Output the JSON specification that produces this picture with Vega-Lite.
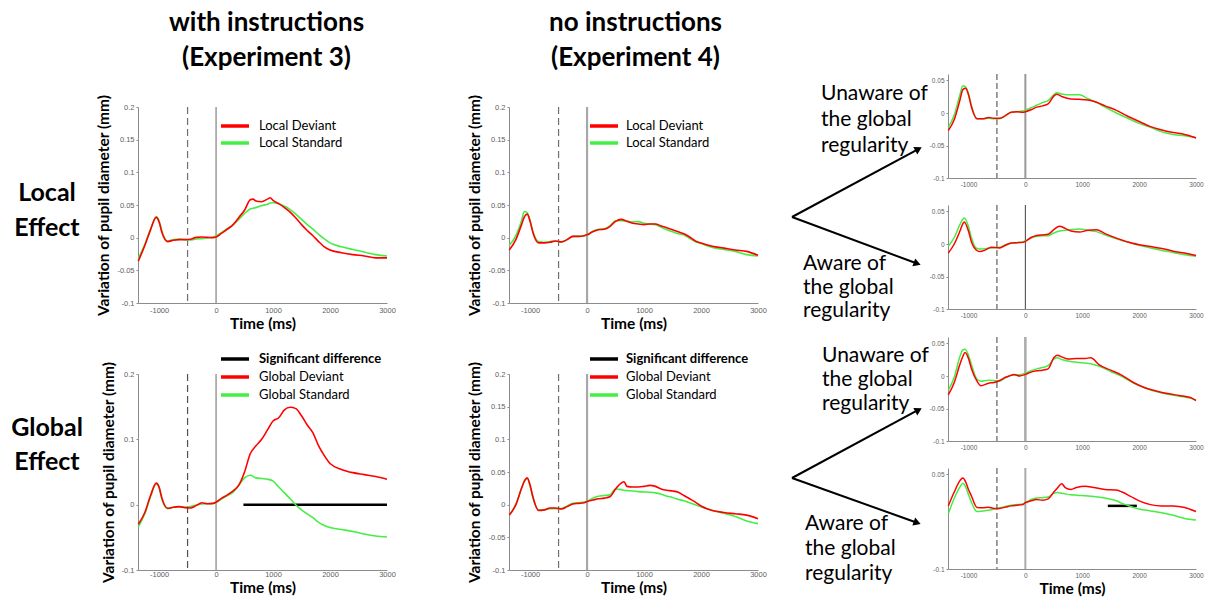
{
  "$schema": "https://vega.github.io/schema/vega-lite/v6.json",
  "background": "white",
  "padding": {"left": 0, "top": 10, "right": 0, "bottom": 0},
  "spacing": 0,
  "resolve": {"scale": {"x": "independent", "y": "independent", "color": "independent"}, "legend": {"color": "independent"}, "axis": {"x": "independent", "y": "independent"}},
  "config": {
    "view": {"stroke": null},
    "font": "Lato",
    "axis": {"grid": false, "domainColor": "#8c8c8c", "tickColor": "#8c8c8c", "tickSize": 2, "labelFont": "Liberation Sans", "labelFontSize": 7.5, "labelColor": "#606060", "labelPadding": 2, "labelFlush": false, "labelOverlap": false, "titleFont": "Lato", "titleFontSize": 15.5, "titleFontWeight": "bold", "titleColor": "black"},
    "axisX": {"titlePadding": 3, "tickSize": 0, "labelPadding": 3},
    "axisY": {"titlePadding": 5}
  },
  "datasets": {
    "p1": [
      {"t": -1365, "d": -0.036, "s": -0.032}, {"t": -1250, "d": -0.012, "s": -0.010}, {"t": -1150, "d": 0.012, "s": 0.013}, {"t": -1050, "d": 0.031, "s": 0.032}, {"t": -1000, "d": 0.024, "s": 0.026}, {"t": -950, "d": 0.008, "s": 0.010}, {"t": -850, "d": -0.006, "s": -0.005}, {"t": -750, "d": -0.004, "s": -0.003}, {"t": -650, "d": -0.003, "s": -0.002}, {"t": -550, "d": -0.003, "s": -0.003}, {"t": -450, "d": -0.0025, "s": -0.0035}, {"t": -350, "d": 0.0005, "s": -0.002}, {"t": -250, "d": 0.001, "s": -0.0015}, {"t": -150, "d": 0.0005, "s": -0.0005}, {"t": -50, "d": 0.0, "s": 0.001}, {"t": 0, "d": 0.001, "s": 0.0025}, {"t": 100, "d": 0.007, "s": 0.008}, {"t": 200, "d": 0.013, "s": 0.014}, {"t": 300, "d": 0.020, "s": 0.020}, {"t": 400, "d": 0.031, "s": 0.028}, {"t": 500, "d": 0.042, "s": 0.037}, {"t": 600, "d": 0.058, "s": 0.044}, {"t": 650, "d": 0.059, "s": 0.045}, {"t": 700, "d": 0.056, "s": 0.046}, {"t": 800, "d": 0.055, "s": 0.049}, {"t": 900, "d": 0.059, "s": 0.051}, {"t": 950, "d": 0.061, "s": 0.053}, {"t": 1000, "d": 0.057, "s": 0.0535}, {"t": 1100, "d": 0.052, "s": 0.052}, {"t": 1200, "d": 0.046, "s": 0.048}, {"t": 1300, "d": 0.039, "s": 0.043}, {"t": 1400, "d": 0.030, "s": 0.036}, {"t": 1500, "d": 0.020, "s": 0.028}, {"t": 1600, "d": 0.011, "s": 0.020}, {"t": 1700, "d": 0.003, "s": 0.013}, {"t": 1800, "d": -0.006, "s": 0.005}, {"t": 1900, "d": -0.014, "s": -0.002}, {"t": 2000, "d": -0.019, "s": -0.008}, {"t": 2200, "d": -0.023, "s": -0.014}, {"t": 2400, "d": -0.026, "s": -0.018}, {"t": 2600, "d": -0.028, "s": -0.022}, {"t": 2800, "d": -0.031, "s": -0.026}, {"t": 3000, "d": -0.031, "s": -0.028}
    ],
    "p3": [
      {"t": -1365, "d": -0.030, "s": -0.034}, {"t": -1250, "d": -0.012, "s": -0.014}, {"t": -1150, "d": 0.014, "s": 0.012}, {"t": -1050, "d": 0.033, "s": 0.032}, {"t": -1000, "d": 0.027, "s": 0.026}, {"t": -950, "d": 0.010, "s": 0.008}, {"t": -850, "d": -0.0055, "s": -0.006}, {"t": -750, "d": -0.004, "s": -0.004}, {"t": -650, "d": -0.003, "s": -0.003}, {"t": -550, "d": -0.0045, "s": -0.004}, {"t": -450, "d": -0.005, "s": -0.003}, {"t": -350, "d": -0.0015, "s": -0.0005}, {"t": -250, "d": 0.003, "s": 0.001}, {"t": -150, "d": 0.0015, "s": 0.0015}, {"t": -50, "d": 0.002, "s": 0.002}, {"t": 0, "d": 0.004, "s": 0.003}, {"t": 100, "d": 0.010, "s": 0.009}, {"t": 200, "d": 0.015, "s": 0.014}, {"t": 300, "d": 0.021, "s": 0.019}, {"t": 400, "d": 0.030, "s": 0.030}, {"t": 500, "d": 0.050, "s": 0.041}, {"t": 600, "d": 0.078, "s": 0.045}, {"t": 700, "d": 0.090, "s": 0.041}, {"t": 800, "d": 0.100, "s": 0.040}, {"t": 900, "d": 0.114, "s": 0.039}, {"t": 1000, "d": 0.128, "s": 0.036}, {"t": 1100, "d": 0.133, "s": 0.027}, {"t": 1200, "d": 0.145, "s": 0.018}, {"t": 1300, "d": 0.149, "s": 0.009}, {"t": 1400, "d": 0.147, "s": -0.0005}, {"t": 1500, "d": 0.136, "s": -0.008}, {"t": 1600, "d": 0.122, "s": -0.014}, {"t": 1700, "d": 0.110, "s": -0.020}, {"t": 1800, "d": 0.090, "s": -0.027}, {"t": 1900, "d": 0.075, "s": -0.032}, {"t": 2000, "d": 0.063, "s": -0.035}, {"t": 2200, "d": 0.054, "s": -0.038}, {"t": 2400, "d": 0.049, "s": -0.041}, {"t": 2600, "d": 0.046, "s": -0.045}, {"t": 2800, "d": 0.043, "s": -0.048}, {"t": 3000, "d": 0.039, "s": -0.0495}
    ],
    "p2": [
      {"t": -1365, "d": -0.019, "s": -0.012}, {"t": -1250, "d": -0.003, "s": 0.003}, {"t": -1150, "d": 0.020, "s": 0.026}, {"t": -1100, "d": 0.032, "s": 0.040}, {"t": -1050, "d": 0.036, "s": 0.038}, {"t": -1000, "d": 0.025, "s": 0.026}, {"t": -950, "d": 0.008, "s": 0.009}, {"t": -850, "d": -0.008, "s": -0.006}, {"t": -750, "d": -0.008, "s": -0.007}, {"t": -650, "d": -0.007, "s": -0.006}, {"t": -550, "d": -0.005, "s": -0.005}, {"t": -450, "d": -0.0065, "s": -0.0065}, {"t": -350, "d": -0.003, "s": -0.003}, {"t": -250, "d": 0.002, "s": 0.002}, {"t": -150, "d": 0.002, "s": 0.002}, {"t": -50, "d": 0.003, "s": 0.003}, {"t": 0, "d": 0.0046, "s": 0.0036}, {"t": 100, "d": 0.009, "s": 0.010}, {"t": 200, "d": 0.012, "s": 0.013}, {"t": 300, "d": 0.0128, "s": 0.0135}, {"t": 400, "d": 0.017, "s": 0.018}, {"t": 500, "d": 0.025, "s": 0.026}, {"t": 600, "d": 0.028, "s": 0.026}, {"t": 700, "d": 0.025, "s": 0.025}, {"t": 800, "d": 0.022, "s": 0.024}, {"t": 900, "d": 0.021, "s": 0.0245}, {"t": 1000, "d": 0.020, "s": 0.022}, {"t": 1100, "d": 0.021, "s": 0.021}, {"t": 1200, "d": 0.021, "s": 0.020}, {"t": 1300, "d": 0.018, "s": 0.016}, {"t": 1400, "d": 0.015, "s": 0.012}, {"t": 1500, "d": 0.012, "s": 0.009}, {"t": 1600, "d": 0.009, "s": 0.006}, {"t": 1700, "d": 0.006, "s": 0.004}, {"t": 1800, "d": 0.001, "s": -0.001}, {"t": 1900, "d": -0.005, "s": -0.006}, {"t": 2000, "d": -0.008, "s": -0.009}, {"t": 2200, "d": -0.013, "s": -0.015}, {"t": 2400, "d": -0.016, "s": -0.018}, {"t": 2600, "d": -0.019, "s": -0.021}, {"t": 2800, "d": -0.021, "s": -0.026}, {"t": 3000, "d": -0.027, "s": -0.028}
    ],
    "p4": [
      {"t": -1365, "d": -0.016, "s": -0.016}, {"t": -1250, "d": 0.000, "s": 0.000}, {"t": -1150, "d": 0.025, "s": 0.025}, {"t": -1100, "d": 0.036, "s": 0.036}, {"t": -1050, "d": 0.041, "s": 0.040}, {"t": -1000, "d": 0.030, "s": 0.028}, {"t": -950, "d": 0.012, "s": 0.010}, {"t": -850, "d": -0.009, "s": -0.008}, {"t": -750, "d": -0.008, "s": -0.008}, {"t": -650, "d": -0.005, "s": -0.006}, {"t": -550, "d": -0.005, "s": -0.006}, {"t": -450, "d": -0.0066, "s": -0.006}, {"t": -350, "d": -0.003, "s": -0.002}, {"t": -250, "d": 0.001, "s": 0.002}, {"t": -150, "d": 0.002, "s": 0.003}, {"t": -50, "d": 0.003, "s": 0.004}, {"t": 0, "d": 0.005, "s": 0.005}, {"t": 100, "d": 0.007, "s": 0.010}, {"t": 200, "d": 0.009, "s": 0.013}, {"t": 300, "d": 0.010, "s": 0.014}, {"t": 400, "d": 0.012, "s": 0.015}, {"t": 500, "d": 0.024, "s": 0.024}, {"t": 600, "d": 0.033, "s": 0.023}, {"t": 650, "d": 0.035, "s": 0.022}, {"t": 700, "d": 0.028, "s": 0.0215}, {"t": 800, "d": 0.027, "s": 0.021}, {"t": 900, "d": 0.027, "s": 0.020}, {"t": 1000, "d": 0.028, "s": 0.0195}, {"t": 1100, "d": 0.0295, "s": 0.019}, {"t": 1200, "d": 0.028, "s": 0.018}, {"t": 1300, "d": 0.024, "s": 0.016}, {"t": 1400, "d": 0.022, "s": 0.013}, {"t": 1500, "d": 0.021, "s": 0.011}, {"t": 1600, "d": 0.019, "s": 0.008}, {"t": 1700, "d": 0.014, "s": 0.006}, {"t": 1800, "d": 0.009, "s": 0.003}, {"t": 1900, "d": 0.004, "s": 0.000}, {"t": 2000, "d": -0.002, "s": -0.003}, {"t": 2200, "d": -0.009, "s": -0.009}, {"t": 2400, "d": -0.012, "s": -0.013}, {"t": 2600, "d": -0.014, "s": -0.018}, {"t": 2800, "d": -0.016, "s": -0.025}, {"t": 3000, "d": -0.0214, "s": -0.029}
    ],
    "p5": [
      {"t": -1355, "d": -0.027, "s": -0.022}, {"t": -1250, "d": -0.010, "s": -0.003}, {"t": -1150, "d": 0.020, "s": 0.028}, {"t": -1100, "d": 0.036, "s": 0.042}, {"t": -1050, "d": 0.038, "s": 0.040}, {"t": -1000, "d": 0.028, "s": 0.030}, {"t": -950, "d": 0.010, "s": 0.012}, {"t": -850, "d": -0.009, "s": -0.009}, {"t": -750, "d": -0.009, "s": -0.009}, {"t": -650, "d": -0.007, "s": -0.008}, {"t": -550, "d": -0.008, "s": -0.009}, {"t": -450, "d": -0.008, "s": -0.009}, {"t": -350, "d": -0.004, "s": -0.004}, {"t": -250, "d": 0.001, "s": 0.001}, {"t": -150, "d": 0.002, "s": 0.002}, {"t": -50, "d": 0.001, "s": 0.003}, {"t": 0, "d": 0.002, "s": 0.0046}, {"t": 100, "d": 0.005, "s": 0.008}, {"t": 200, "d": 0.009, "s": 0.012}, {"t": 300, "d": 0.011, "s": 0.016}, {"t": 400, "d": 0.014, "s": 0.019}, {"t": 500, "d": 0.026, "s": 0.028}, {"t": 550, "d": 0.029, "s": 0.031}, {"t": 650, "d": 0.025, "s": 0.029}, {"t": 800, "d": 0.0215, "s": 0.028}, {"t": 950, "d": 0.021, "s": 0.028}, {"t": 1100, "d": 0.020, "s": 0.022}, {"t": 1250, "d": 0.0165, "s": 0.0165}, {"t": 1400, "d": 0.011, "s": 0.009}, {"t": 1600, "d": 0.004, "s": 0.000}, {"t": 1800, "d": -0.005, "s": -0.008}, {"t": 2000, "d": -0.013, "s": -0.016}, {"t": 2200, "d": -0.021, "s": -0.022}, {"t": 2400, "d": -0.026, "s": -0.029}, {"t": 2600, "d": -0.030, "s": -0.033}, {"t": 2800, "d": -0.033, "s": -0.035}, {"t": 3000, "d": -0.0385, "s": -0.0376}
    ],
    "p6": [
      {"t": -1355, "d": -0.014, "s": -0.0035}, {"t": -1250, "d": 0.000, "s": 0.010}, {"t": -1150, "d": 0.020, "s": 0.030}, {"t": -1100, "d": 0.031, "s": 0.038}, {"t": -1075, "d": 0.034, "s": 0.040}, {"t": -1000, "d": 0.020, "s": 0.027}, {"t": -950, "d": 0.004, "s": 0.010}, {"t": -850, "d": -0.010, "s": -0.007}, {"t": -800, "d": -0.0116, "s": -0.0076}, {"t": -700, "d": -0.009, "s": -0.007}, {"t": -600, "d": -0.005, "s": -0.006}, {"t": -450, "d": -0.006, "s": -0.005}, {"t": -350, "d": -0.002, "s": -0.001}, {"t": -250, "d": 0.0015, "s": 0.001}, {"t": -150, "d": 0.002, "s": 0.002}, {"t": -50, "d": 0.0025, "s": 0.003}, {"t": 0, "d": 0.004, "s": 0.005}, {"t": 100, "d": 0.010, "s": 0.009}, {"t": 200, "d": 0.013, "s": 0.012}, {"t": 300, "d": 0.014, "s": 0.0125}, {"t": 400, "d": 0.015, "s": 0.0128}, {"t": 500, "d": 0.022, "s": 0.017}, {"t": 600, "d": 0.0275, "s": 0.020}, {"t": 700, "d": 0.024, "s": 0.021}, {"t": 800, "d": 0.020, "s": 0.022}, {"t": 950, "d": 0.0185, "s": 0.023}, {"t": 1100, "d": 0.021, "s": 0.021}, {"t": 1250, "d": 0.022, "s": 0.019}, {"t": 1400, "d": 0.016, "s": 0.014}, {"t": 1600, "d": 0.009, "s": 0.008}, {"t": 1800, "d": 0.003, "s": 0.003}, {"t": 2000, "d": -0.001, "s": -0.002}, {"t": 2200, "d": -0.004, "s": -0.006}, {"t": 2400, "d": -0.007, "s": -0.010}, {"t": 2600, "d": -0.011, "s": -0.013}, {"t": 2800, "d": -0.014, "s": -0.0165}, {"t": 3000, "d": -0.0177, "s": -0.0187}
    ],
    "p7": [
      {"t": -1355, "d": -0.029, "s": -0.022}, {"t": -1250, "d": -0.010, "s": -0.002}, {"t": -1150, "d": 0.018, "s": 0.030}, {"t": -1100, "d": 0.030, "s": 0.040}, {"t": -1060, "d": 0.036, "s": 0.041}, {"t": -1000, "d": 0.027, "s": 0.032}, {"t": -950, "d": 0.012, "s": 0.018}, {"t": -850, "d": -0.008, "s": -0.005}, {"t": -780, "d": -0.015, "s": -0.008}, {"t": -650, "d": -0.011, "s": -0.0065}, {"t": -550, "d": -0.010, "s": -0.007}, {"t": -450, "d": -0.007, "s": -0.0076}, {"t": -350, "d": -0.002, "s": -0.003}, {"t": -250, "d": 0.001, "s": 0.001}, {"t": -200, "d": 0.0025, "s": 0.0015}, {"t": -100, "d": 0.000, "s": 0.002}, {"t": 0, "d": 0.0025, "s": 0.004}, {"t": 100, "d": 0.006, "s": 0.008}, {"t": 200, "d": 0.008, "s": 0.011}, {"t": 300, "d": 0.009, "s": 0.013}, {"t": 400, "d": 0.011, "s": 0.016}, {"t": 500, "d": 0.028, "s": 0.026}, {"t": 560, "d": 0.032, "s": 0.028}, {"t": 650, "d": 0.029, "s": 0.025}, {"t": 750, "d": 0.026, "s": 0.023}, {"t": 900, "d": 0.0268, "s": 0.021}, {"t": 1050, "d": 0.027, "s": 0.020}, {"t": 1150, "d": 0.028, "s": 0.019}, {"t": 1300, "d": 0.017, "s": 0.015}, {"t": 1500, "d": 0.009, "s": 0.007}, {"t": 1700, "d": 0.001, "s": -0.001}, {"t": 1900, "d": -0.010, "s": -0.011}, {"t": 2100, "d": -0.018, "s": -0.018}, {"t": 2300, "d": -0.023, "s": -0.024}, {"t": 2500, "d": -0.027, "s": -0.028}, {"t": 2700, "d": -0.030, "s": -0.031}, {"t": 2900, "d": -0.033, "s": -0.034}, {"t": 3000, "d": -0.038, "s": -0.037}
    ],
    "p8": [
      {"t": -1355, "d": 0.000, "s": -0.0125}, {"t": -1250, "d": 0.022, "s": 0.012}, {"t": -1150, "d": 0.040, "s": 0.030}, {"t": -1100, "d": 0.044, "s": 0.036}, {"t": -1050, "d": 0.038, "s": 0.030}, {"t": -1000, "d": 0.026, "s": 0.018}, {"t": -950, "d": 0.016, "s": 0.006}, {"t": -850, "d": -0.0025, "s": -0.009}, {"t": -750, "d": -0.003, "s": -0.008}, {"t": -650, "d": -0.002, "s": -0.007}, {"t": -550, "d": -0.004, "s": -0.005}, {"t": -450, "d": -0.004, "s": -0.003}, {"t": -350, "d": -0.002, "s": -0.001}, {"t": -250, "d": 0.000, "s": 0.001}, {"t": -150, "d": 0.001, "s": 0.002}, {"t": -50, "d": 0.002, "s": 0.003}, {"t": 0, "d": 0.005, "s": 0.005}, {"t": 100, "d": 0.008, "s": 0.010}, {"t": 200, "d": 0.010, "s": 0.0125}, {"t": 300, "d": 0.009, "s": 0.013}, {"t": 400, "d": 0.011, "s": 0.014}, {"t": 500, "d": 0.022, "s": 0.020}, {"t": 560, "d": 0.028, "s": 0.021}, {"t": 640, "d": 0.035, "s": 0.020}, {"t": 700, "d": 0.029, "s": 0.019}, {"t": 800, "d": 0.026, "s": 0.0175}, {"t": 900, "d": 0.029, "s": 0.017}, {"t": 1050, "d": 0.031, "s": 0.016}, {"t": 1200, "d": 0.029, "s": 0.015}, {"t": 1400, "d": 0.026, "s": 0.0125}, {"t": 1600, "d": 0.025, "s": 0.008}, {"t": 1700, "d": 0.022, "s": 0.004}, {"t": 1850, "d": 0.015, "s": -0.001}, {"t": 2000, "d": 0.008, "s": -0.005}, {"t": 2200, "d": 0.002, "s": -0.008}, {"t": 2400, "d": 0.000, "s": -0.011}, {"t": 2600, "d": 0.000, "s": -0.015}, {"t": 2800, "d": -0.0025, "s": -0.020}, {"t": 3000, "d": -0.009, "s": -0.0225}
    ],
    "rowlabels": [
      {"label": "Local", "x": 47, "y": 198}, {"label": "Effect", "x": 47, "y": 233},
      {"label": "Global", "x": 47, "y": 433}, {"label": "Effect", "x": 47, "y": 467}
    ],
    "arrows": [
      {"arrow": "u1", "x": 790, "y": 214}, {"arrow": "u1", "x": 914, "y": 147.3},
      {"arrow": "d1", "x": 790, "y": 214}, {"arrow": "d1", "x": 913, "y": 259.8},
      {"arrow": "u2", "x": 790, "y": 475}, {"arrow": "u2", "x": 914, "y": 408.2},
      {"arrow": "d2", "x": 790, "y": 475}, {"arrow": "d2", "x": 913, "y": 519}
    ],
    "tips": [
      {"dir": "up", "x": 916.5, "y": 146}, {"dir": "down", "x": 915.2, "y": 260.6},
      {"dir": "up", "x": 916.5, "y": 407}, {"dir": "down", "x": 915.2, "y": 519.7}
    ],
    "annot": [
      {"label": "Unaware of", "x": 819, "y": 97}, {"label": "the global", "x": 819, "y": 123}, {"label": "regularity", "x": 819, "y": 149},
      {"label": "Aware of", "x": 801, "y": 267}, {"label": "the global", "x": 801, "y": 291}, {"label": "regularity", "x": 801, "y": 314},
      {"label": "Unaware of", "x": 820, "y": 359}, {"label": "the global", "x": 820, "y": 383}, {"label": "regularity", "x": 820, "y": 407},
      {"label": "Aware of", "x": 803, "y": 527}, {"label": "the global", "x": 803, "y": 552}, {"label": "regularity", "x": 803, "y": 577}
    ]
  },
  "hconcat": [
    {
      "width": 96, "height": 588,
      "data": {"name": "rowlabels"},
      "mark": {"type": "text", "font": "Lato", "fontWeight": "bold", "fontSize": 25, "align": "center", "baseline": "alphabetic", "color": "black"},
      "encoding": {
        "x": {"field": "x", "type": "quantitative", "scale": {"domain": [0, 96], "nice": false, "zero": false}, "axis": null},
        "y": {"field": "y", "type": "quantitative", "scale": {"domain": [10, 598], "nice": false, "zero": false, "reverse": true}, "axis": null},
        "text": {"field": "label"}
      }
    },
    {
      "spacing": 18,
      "resolve": {"scale": {"x": "independent", "y": "independent", "color": "independent"}, "legend": {"color": "independent"}, "axis": {"x": "independent", "y": "independent"}},
      "vconcat": [
        {
          "width": 249, "height": 63,
          "data": {"values": [{"label": "with instructions|(Experiment 3)"}]},
          "mark": {"type": "text", "font": "Lato", "fontSize": 26, "fontWeight": "bold", "lineHeight": 35, "lineBreak": "|", "align": "center", "baseline": "middle", "dy": -21.5, "dx": 4, "color": "black"},
          "encoding": {"text": {"field": "label"}}
        },
        {
          "width": 249, "height": 196,
          "layer": [
            {"data": {"values": [{}]}, "mark": {"type": "rule", "color": "#707070", "strokeWidth": 1.2, "strokeDash": [7, 4]}, "encoding": {"x": {"datum": -500, "type": "quantitative"}}},
            {"data": {"values": [{}]}, "mark": {"type": "rule", "color": "#808080", "strokeWidth": 1.2}, "encoding": {"x": {"datum": 0, "type": "quantitative"}}},
            {
              "data": {"name": "p1"},
              "transform": [{"fold": ["s", "d"], "as": ["cond", "v"]}],
              "mark": {"type": "line", "strokeWidth": 1.6, "interpolate": "monotone"},
              "encoding": {
                "x": {"field": "t", "type": "quantitative", "scale": {"domain": [-1370, 3000], "nice": false, "zero": false}, "axis": {"values": [-1000, -500, 0, 500, 1000, 1500, 2000, 2500, 3000], "labelExpr": "toString(datum.value)", "title": "Time (ms)"}},
                "y": {"field": "v", "type": "quantitative", "scale": {"domain": [-0.1, 0.2], "nice": false, "zero": false}, "axis": {"values": [-0.1, -0.05, 0, 0.05, 0.1, 0.15, 0.2], "labelExpr": "toString(datum.value)", "title": "Variation of pupil diameter (mm)"}},
                "color": {"field": "cond", "type": "nominal", "scale": {"domain": ["d", "s"], "range": ["#ff0000", "#44ee44"]}, "legend": {"orient": "none", "legendX": 88, "legendY": 10, "title": null, "symbolType": "M-2,0H2", "symbolSize": 196, "symbolStrokeWidth": 3.5, "labelFontSize": 13, "labelFont": "Lato", "labelColor": "black", "labelOffset": 15, "rowPadding": 1, "labelExpr": "datum.value == 'd' ? 'Local Deviant' : 'Local Standard'"}}
              }
            }
          ]
        },
        {
          "width": 249, "height": 196,
          "layer": [
            {"data": {"values": [{}]}, "mark": {"type": "rule", "color": "#505050", "strokeWidth": 1.2, "strokeDash": [7, 4]}, "encoding": {"x": {"datum": -500, "type": "quantitative"}}},
            {"data": {"values": [{}]}, "mark": {"type": "rule", "color": "#808080", "strokeWidth": 1.2}, "encoding": {"x": {"datum": 0, "type": "quantitative"}}},
            {"data": {"values": [{"t": 480, "v": 0}, {"t": 3000, "v": 0}]}, "mark": {"type": "line", "strokeWidth": 2.5}, "encoding": {"x": {"field": "t", "type": "quantitative"}, "y": {"field": "v", "type": "quantitative"}, "color": {"datum": "sig"}}},
            {
              "data": {"name": "p3"},
              "transform": [{"fold": ["s", "d"], "as": ["cond", "v"]}],
              "mark": {"type": "line", "strokeWidth": 1.6, "interpolate": "monotone"},
              "encoding": {
                "x": {"field": "t", "type": "quantitative", "scale": {"domain": [-1370, 3000], "nice": false, "zero": false}, "axis": {"values": [-1000, -500, 0, 500, 1000, 1500, 2000, 2500, 3000], "labelExpr": "toString(datum.value)", "title": "Time (ms)", "labelPadding": 0, "titlePadding": 3}},
                "y": {"field": "v", "type": "quantitative", "scale": {"domain": [-0.1, 0.2], "nice": false, "zero": false}, "axis": {"values": [-0.1, -0.05, 0, 0.05, 0.1, 0.15, 0.2], "labelExpr": "toString(datum.value)", "title": "Variation of pupil diameter (mm)"}},
                "color": {"field": "cond", "type": "nominal", "scale": {"domain": ["sig", "d", "s"], "range": ["#000000", "#ff0000", "#44ee44"]}, "legend": {"orient": "none", "legendX": 88, "legendY": -24, "title": null, "symbolType": "M-2,0H2", "symbolSize": 196, "symbolStrokeWidth": 3.5, "labelFontSize": 13, "labelFont": "Lato", "labelColor": "black", "labelOffset": 15, "rowPadding": 2, "labelFontWeight": {"expr": "datum.value == 'sig' ? 'bold' : 'normal'"}, "labelExpr": "datum.value == 'sig' ? 'Significant difference' : datum.value == 'd' ? 'Global Deviant' : 'Global Standard'"}}
              }
            }
          ]
        }
      ]
    },
    {"width": 71, "height": 10, "data": {"values": [{}]}, "mark": "text", "encoding": {"text": {"value": ""}}},
    {
      "spacing": 18,
      "resolve": {"scale": {"x": "independent", "y": "independent", "color": "independent"}, "legend": {"color": "independent"}, "axis": {"x": "independent", "y": "independent"}},
      "vconcat": [
        {
          "width": 249, "height": 63,
          "data": {"values": [{"label": "no instructions|(Experiment 4)"}]},
          "mark": {"type": "text", "font": "Lato", "fontSize": 26, "fontWeight": "bold", "lineHeight": 35, "lineBreak": "|", "align": "center", "baseline": "middle", "dy": -21.5, "dx": 2, "color": "black"},
          "encoding": {"text": {"field": "label"}}
        },
        {
          "width": 249, "height": 196,
          "layer": [
            {"data": {"values": [{}]}, "mark": {"type": "rule", "color": "#707070", "strokeWidth": 1.2, "strokeDash": [7, 4]}, "encoding": {"x": {"datum": -500, "type": "quantitative"}}},
            {"data": {"values": [{}]}, "mark": {"type": "rule", "color": "#a8a8a8", "strokeWidth": 2.2}, "encoding": {"x": {"datum": 0, "type": "quantitative"}}},
            {
              "data": {"name": "p2"},
              "transform": [{"fold": ["s", "d"], "as": ["cond", "v"]}],
              "mark": {"type": "line", "strokeWidth": 1.6, "interpolate": "monotone"},
              "encoding": {
                "x": {"field": "t", "type": "quantitative", "scale": {"domain": [-1370, 3000], "nice": false, "zero": false}, "axis": {"values": [-1000, -500, 0, 500, 1000, 1500, 2000, 2500, 3000], "labelExpr": "toString(datum.value)", "title": "Time (ms)"}},
                "y": {"field": "v", "type": "quantitative", "scale": {"domain": [-0.1, 0.2], "nice": false, "zero": false}, "axis": {"values": [-0.1, -0.05, 0, 0.05, 0.1, 0.15, 0.2], "labelExpr": "toString(datum.value)", "title": "Variation of pupil diameter (mm)"}},
                "color": {"field": "cond", "type": "nominal", "scale": {"domain": ["d", "s"], "range": ["#ff0000", "#44ee44"]}, "legend": {"orient": "none", "legendX": 86, "legendY": 10, "title": null, "symbolType": "M-2,0H2", "symbolSize": 196, "symbolStrokeWidth": 3.5, "labelFontSize": 13, "labelFont": "Lato", "labelColor": "black", "labelOffset": 13, "rowPadding": 1, "labelExpr": "datum.value == 'd' ? 'Local Deviant' : 'Local Standard'"}}
              }
            }
          ]
        },
        {
          "width": 249, "height": 196,
          "layer": [
            {"data": {"values": [{}]}, "mark": {"type": "rule", "color": "#707070", "strokeWidth": 1.2, "strokeDash": [7, 4]}, "encoding": {"x": {"datum": -500, "type": "quantitative"}}},
            {"data": {"values": [{}]}, "mark": {"type": "rule", "color": "#a8a8a8", "strokeWidth": 2.2}, "encoding": {"x": {"datum": 0, "type": "quantitative"}}},
            {
              "data": {"name": "p4"},
              "transform": [{"fold": ["s", "d"], "as": ["cond", "v"]}],
              "mark": {"type": "line", "strokeWidth": 1.6, "interpolate": "monotone"},
              "encoding": {
                "x": {"field": "t", "type": "quantitative", "scale": {"domain": [-1370, 3000], "nice": false, "zero": false}, "axis": {"values": [-1000, -500, 0, 500, 1000, 1500, 2000, 2500, 3000], "labelExpr": "toString(datum.value)", "title": "Time (ms)", "labelPadding": 0, "titlePadding": 3}},
                "y": {"field": "v", "type": "quantitative", "scale": {"domain": [-0.1, 0.2], "nice": false, "zero": false}, "axis": {"values": [-0.1, -0.05, 0, 0.05, 0.1, 0.15, 0.2], "labelExpr": "toString(datum.value)", "title": "Variation of pupil diameter (mm)"}},
                "color": {"field": "cond", "type": "nominal", "scale": {"domain": ["sig", "d", "s"], "range": ["#000000", "#ff0000", "#44ee44"]}, "legend": {"orient": "none", "legendX": 86, "legendY": -24, "title": null, "symbolType": "M-2,0H2", "symbolSize": 196, "symbolStrokeWidth": 3.5, "labelFontSize": 13, "labelFont": "Lato", "labelColor": "black", "labelOffset": 13, "rowPadding": 2, "labelFontWeight": {"expr": "datum.value == 'sig' ? 'bold' : 'normal'"}, "labelExpr": "datum.value == 'sig' ? 'Significant difference' : datum.value == 'd' ? 'Global Deviant' : 'Global Standard'"}}
              }
            }
          ]
        }
      ]
    },
    {
      "width": 161, "height": 588,
      "layer": [
        {
          "data": {"name": "arrows"},
          "mark": {"type": "line", "color": "black", "strokeWidth": 2},
          "encoding": {
            "x": {"field": "x", "type": "quantitative", "scale": {"domain": [765, 926], "nice": false, "zero": false}, "axis": null},
            "y": {"field": "y", "type": "quantitative", "scale": {"domain": [10, 598], "nice": false, "zero": false, "reverse": true}, "axis": null},
            "detail": {"field": "arrow"},
            "order": {"field": "x"}
          }
        },
        {
          "data": {"name": "tips"},
          "transform": [{"filter": "datum.dir == 'up'"}],
          "mark": {"type": "point", "shape": "triangle-right", "filled": true, "color": "black", "opacity": 1, "size": 70, "angle": -28.3},
          "encoding": {"x": {"field": "x", "type": "quantitative"}, "y": {"field": "y", "type": "quantitative"}}
        },
        {
          "data": {"name": "tips"},
          "transform": [{"filter": "datum.dir == 'down'"}],
          "mark": {"type": "point", "shape": "triangle-right", "filled": true, "color": "black", "opacity": 1, "size": 70, "angle": 20},
          "encoding": {"x": {"field": "x", "type": "quantitative"}, "y": {"field": "y", "type": "quantitative"}}
        },
        {
          "data": {"name": "annot"},
          "mark": {"type": "text", "align": "left", "baseline": "alphabetic", "font": "Lato", "fontSize": 21, "color": "black"},
          "encoding": {"x": {"field": "x", "type": "quantitative"}, "y": {"field": "y", "type": "quantitative"}, "text": {"field": "label"}}
        }
      ]
    },
    {
      "spacing": 16,
      "resolve": {"scale": {"x": "independent", "y": "independent", "color": "independent"}, "legend": {"color": "independent"}, "axis": {"x": "independent", "y": "independent"}},
      "vconcat": [
        {"width": 10, "height": 44, "data": {"values": [{}]}, "mark": "text", "encoding": {"text": {"value": ""}}},
        {
          "width": 248, "height": 104,
          "layer": [
            {"data": {"values": [{}]}, "mark": {"type": "rule", "color": "#606060", "strokeWidth": 1.2, "strokeDash": [6, 3]}, "encoding": {"x": {"datum": -500, "type": "quantitative"}}},
            {"data": {"values": [{}]}, "mark": {"type": "rule", "color": "#999999", "strokeWidth": 2}, "encoding": {"x": {"datum": 0, "type": "quantitative"}}},
            {
              "data": {"name": "p5"},
              "transform": [{"fold": ["s", "d"], "as": ["cond", "v"]}],
              "mark": {"type": "line", "strokeWidth": 1.5, "interpolate": "monotone"},
              "encoding": {
                "x": {"field": "t", "type": "quantitative", "scale": {"domain": [-1360, 3000], "nice": false, "zero": false}, "axis": {"values": [-1000, -500, 0, 500, 1000, 1500, 2000, 2500, 3000], "labelExpr": "toString(datum.value)", "labelFontSize": 6.5, "title": null}},
                "y": {"field": "v", "type": "quantitative", "scale": {"domain": [-0.1, 0.06], "nice": false, "zero": false}, "axis": {"values": [-0.1, -0.05, 0, 0.05], "labelExpr": "toString(datum.value)", "labelFontSize": 6.5, "title": null}},
                "color": {"field": "cond", "type": "nominal", "scale": {"domain": ["d", "s"], "range": ["#ff0000", "#44ee44"]}, "legend": null}
              }
            }
          ]
        },
        {
          "width": 248, "height": 104,
          "layer": [
            {"data": {"values": [{}]}, "mark": {"type": "rule", "color": "#606060", "strokeWidth": 1.2, "strokeDash": [6, 3]}, "encoding": {"x": {"datum": -500, "type": "quantitative"}}},
            {"data": {"values": [{}]}, "mark": {"type": "rule", "color": "#404040", "strokeWidth": 1}, "encoding": {"x": {"datum": 0, "type": "quantitative"}}},
            {
              "data": {"name": "p6"},
              "transform": [{"fold": ["s", "d"], "as": ["cond", "v"]}],
              "mark": {"type": "line", "strokeWidth": 1.5, "interpolate": "monotone"},
              "encoding": {
                "x": {"field": "t", "type": "quantitative", "scale": {"domain": [-1360, 3000], "nice": false, "zero": false}, "axis": {"values": [-1000, -500, 0, 500, 1000, 1500, 2000, 2500, 3000], "labelExpr": "toString(datum.value)", "labelFontSize": 6.5, "title": null}},
                "y": {"field": "v", "type": "quantitative", "scale": {"domain": [-0.1, 0.06], "nice": false, "zero": false}, "axis": {"values": [-0.1, -0.05, 0, 0.05], "labelExpr": "toString(datum.value)", "labelFontSize": 6.5, "title": null}},
                "color": {"field": "cond", "type": "nominal", "scale": {"domain": ["d", "s"], "range": ["#ff0000", "#44ee44"]}, "legend": null}
              }
            }
          ]
        },
        {
          "width": 248, "height": 104,
          "layer": [
            {"data": {"values": [{}]}, "mark": {"type": "rule", "color": "#606060", "strokeWidth": 1.2, "strokeDash": [6, 3]}, "encoding": {"x": {"datum": -500, "type": "quantitative"}}},
            {"data": {"values": [{}]}, "mark": {"type": "rule", "color": "#aaaaaa", "strokeWidth": 2.5}, "encoding": {"x": {"datum": 0, "type": "quantitative"}}},
            {
              "data": {"name": "p7"},
              "transform": [{"fold": ["s", "d"], "as": ["cond", "v"]}],
              "mark": {"type": "line", "strokeWidth": 1.5, "interpolate": "monotone"},
              "encoding": {
                "x": {"field": "t", "type": "quantitative", "scale": {"domain": [-1360, 3000], "nice": false, "zero": false}, "axis": {"values": [-1000, -500, 0, 500, 1000, 1500, 2000, 2500, 3000], "labelExpr": "toString(datum.value)", "labelFontSize": 6.5, "title": null}},
                "y": {"field": "v", "type": "quantitative", "scale": {"domain": [-0.1, 0.06], "nice": false, "zero": false}, "axis": {"values": [-0.1, -0.05, 0, 0.05], "labelExpr": "toString(datum.value)", "labelFontSize": 6.5, "title": null}},
                "color": {"field": "cond", "type": "nominal", "scale": {"domain": ["d", "s"], "range": ["#ff0000", "#44ee44"]}, "legend": null}
              }
            }
          ]
        },
        {
          "width": 248, "height": 101,
          "layer": [
            {"data": {"values": [{}]}, "mark": {"type": "rule", "color": "#606060", "strokeWidth": 1.2, "strokeDash": [6, 3]}, "encoding": {"x": {"datum": -500, "type": "quantitative"}}},
            {"data": {"values": [{}]}, "mark": {"type": "rule", "color": "#aaaaaa", "strokeWidth": 2}, "encoding": {"x": {"datum": 0, "type": "quantitative"}}},
            {"data": {"values": [{"t": 1450, "v": 0}, {"t": 1960, "v": 0}]}, "mark": {"type": "line", "strokeWidth": 2.5}, "encoding": {"x": {"field": "t", "type": "quantitative"}, "y": {"field": "v", "type": "quantitative"}, "color": {"datum": "sig"}}},
            {
              "data": {"name": "p8"},
              "transform": [{"fold": ["s", "d"], "as": ["cond", "v"]}],
              "mark": {"type": "line", "strokeWidth": 1.5, "interpolate": "monotone"},
              "encoding": {
                "x": {"field": "t", "type": "quantitative", "scale": {"domain": [-1360, 3000], "nice": false, "zero": false}, "axis": {"values": [-1000, -500, 0, 500, 1000, 1500, 2000, 2500, 3000], "labelExpr": "toString(datum.value)", "labelFontSize": 6.5, "title": "Time (ms)", "titlePadding": 3}},
                "y": {"field": "v", "type": "quantitative", "scale": {"domain": [-0.1, 0.06], "nice": false, "zero": false}, "axis": {"values": [-0.1, -0.05, 0, 0.05], "labelExpr": "toString(datum.value)", "labelFontSize": 6.5, "title": null}},
                "color": {"field": "cond", "type": "nominal", "scale": {"domain": ["sig", "d", "s"], "range": ["#000000", "#ff0000", "#44ee44"]}, "legend": null}
              }
            }
          ]
        }
      ]
    }
  ]
}
